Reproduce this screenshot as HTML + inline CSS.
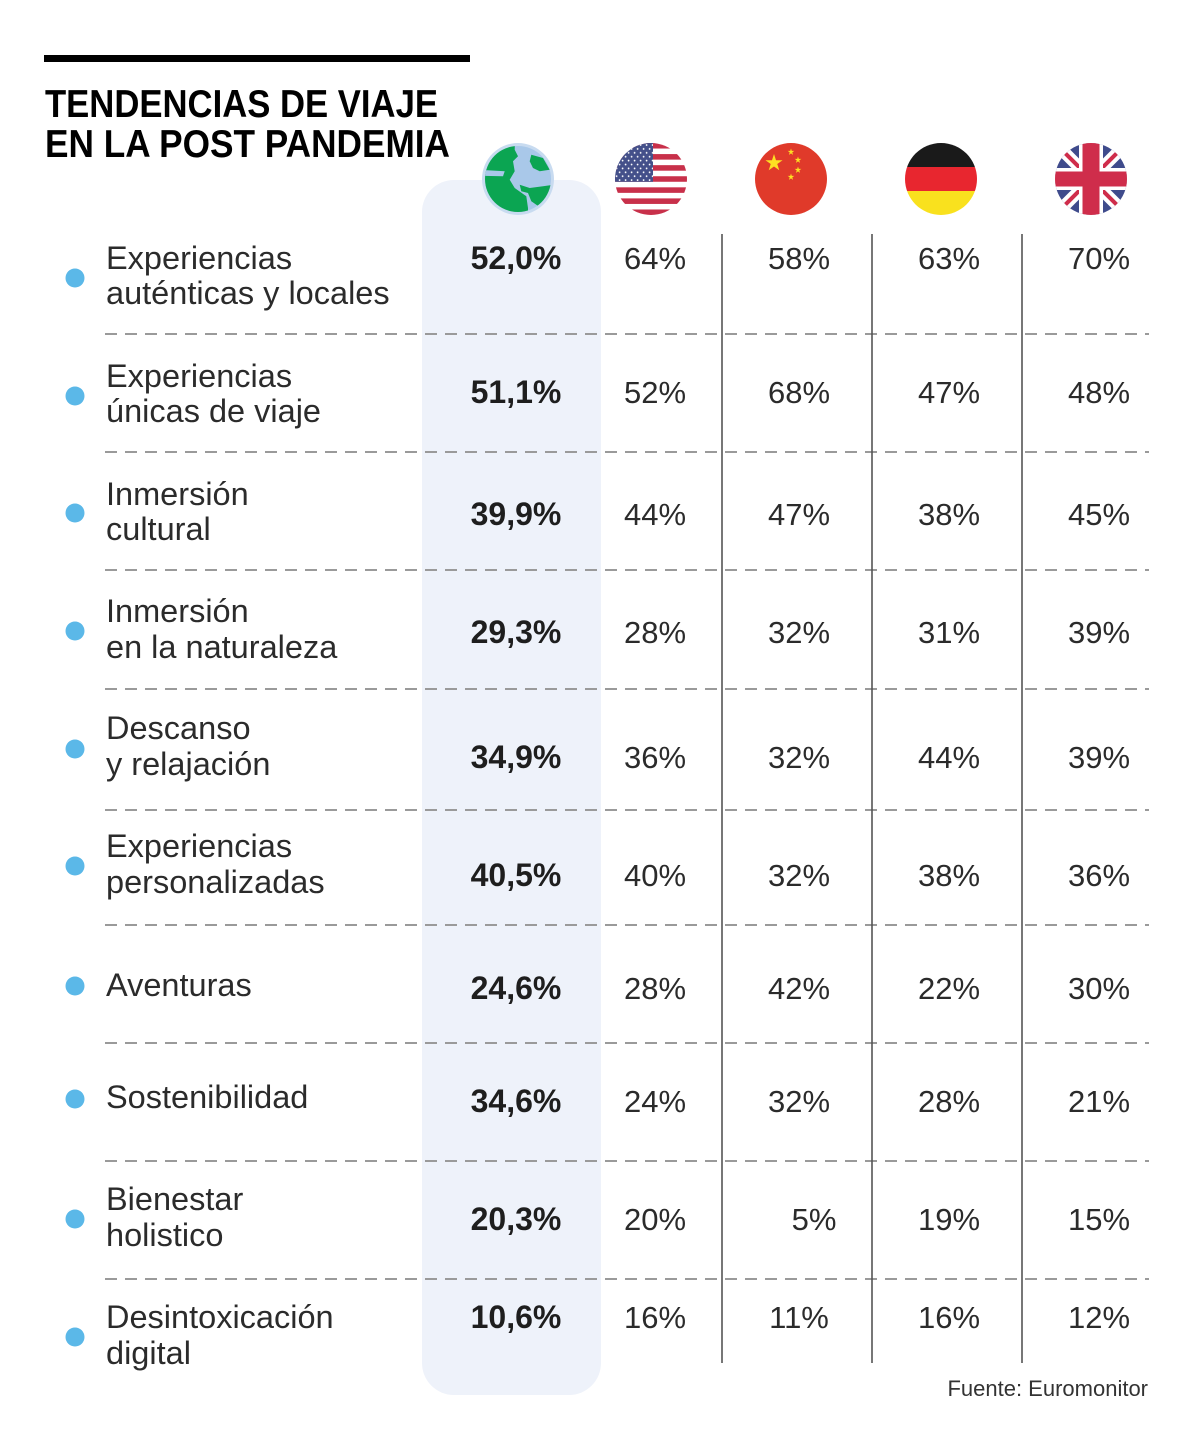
<!DOCTYPE html>
<html>
<head>
<meta charset="utf-8">
<style>
  html, body { margin: 0; padding: 0; background: #ffffff; }
  svg { display: block; }
  .lbl { font-family: "Liberation Sans", sans-serif; font-size: 32.5px; fill: #2b2b2b; }
  .val { font-family: "Liberation Sans", sans-serif; font-size: 31px; fill: #2b2b2b; text-anchor: middle; }
  .gval { font-family: "Liberation Sans", sans-serif; font-size: 32px; font-weight: bold; fill: #1e1e1e; text-anchor: middle; }
  .ttl { font-family: "Liberation Sans", sans-serif; font-size: 39px; font-weight: bold; fill: #000; }
</style>
</head>
<body>
<svg width="1200" height="1455" viewBox="0 0 1200 1455" xmlns="http://www.w3.org/2000/svg">
  <defs>
    <clipPath id="cUS"><circle cx="651" cy="179" r="36"/></clipPath>
    <clipPath id="cCN"><circle cx="791" cy="179" r="36"/></clipPath>
    <clipPath id="cDE"><circle cx="941" cy="179" r="36"/></clipPath>
    <clipPath id="cUK"><circle cx="1091" cy="179" r="36"/></clipPath>
    <clipPath id="cGL"><circle cx="0" cy="0" r="33"/></clipPath>
    <pattern id="stars" x="615" y="143" width="6" height="7.8" patternUnits="userSpaceOnUse">
      <circle cx="1.6" cy="2" r="0.9" fill="#fff"/>
      <circle cx="4.6" cy="5.9" r="0.9" fill="#fff"/>
    </pattern>
  </defs>

  <rect x="0" y="0" width="1200" height="1455" fill="#fff"/>

  <!-- Title -->
  <rect x="44" y="55" width="426" height="7" fill="#000"/>
  <text class="ttl" x="45" y="117" textLength="393" lengthAdjust="spacingAndGlyphs">TENDENCIAS DE VIAJE</text>
  <text class="ttl" x="45" y="157" textLength="405" lengthAdjust="spacingAndGlyphs">EN LA POST PANDEMIA</text>

  <!-- Highlight column -->
  <rect x="422" y="180" width="179" height="1215" rx="32" ry="32" fill="#eef2fa"/>

  <!-- Globe -->
  <g transform="translate(518,179)">
    <circle cx="0" cy="0" r="36" fill="#c8dbf0"/>
    <circle cx="0" cy="0" r="33" fill="#a9c8e9"/>
    <g clip-path="url(#cGL)" fill="#0ba552">
      <path d="M-3.3,-29.3 L0,-22.7 L-5,-17.7 L-3.3,-7.7 L-8.3,0.7 L-3.3,9 L8.3,17.3 L10,29 L10,40 L-40,40 L-40,-40 L-3,-40 Z"/>
      <path d="M13.3,-24.3 L25,-21 L31.7,-9.3 L21.7,-7.7 L15,-11 L11.7,-17.7 Z"/>
      <path d="M1.7,5.7 L11.7,9 L25,7.3 L40,5 L40,40 L18.3,25.7 L13.3,22.3 L10,14 L3.3,12.3 Z"/>
    </g>
    <path d="M-40,-9.3 L-13.3,-7.7 L-15,-2.7 L-40,-3.3 Z" fill="#a9c8e9" clip-path="url(#cGL)"/>
    <path d="M3.3,0.7 L30,-1 L8.3,3.3 Z" fill="#a9c8e9"/>
  </g>

  <!-- US flag -->
  <g clip-path="url(#cUS)">
    <rect x="615" y="143" width="72" height="72" fill="#fff"/>
    <rect x="615" y="143" width="72" height="5.54" fill="#c8304a"/>
    <rect x="615" y="154.08" width="72" height="5.54" fill="#c8304a"/>
    <rect x="615" y="165.16" width="72" height="5.54" fill="#c8304a"/>
    <rect x="615" y="176.24" width="72" height="5.54" fill="#c8304a"/>
    <rect x="615" y="187.32" width="72" height="5.54" fill="#c8304a"/>
    <rect x="615" y="198.4" width="72" height="5.54" fill="#c8304a"/>
    <rect x="615" y="209.48" width="72" height="5.54" fill="#c8304a"/>
    <rect x="615" y="143" width="38" height="38.8" fill="#44508a"/>
    <rect x="615" y="143" width="38" height="38.8" fill="url(#stars)"/>
  </g>

  <!-- China flag -->
  <g clip-path="url(#cCN)">
    <rect x="755" y="143" width="72" height="72" fill="#e03a2a"/>
    <polygon transform="translate(774,163) scale(9)" fill="#fde022" points="0,-1 0.2245,-0.309 0.951,-0.309 0.3633,0.118 0.5878,0.809 0,0.382 -0.5878,0.809 -0.3633,0.118 -0.951,-0.309 -0.2245,-0.309"/>
    <polygon transform="translate(791,152) scale(3.5)" fill="#fde022" points="0,-1 0.2245,-0.309 0.951,-0.309 0.3633,0.118 0.5878,0.809 0,0.382 -0.5878,0.809 -0.3633,0.118 -0.951,-0.309 -0.2245,-0.309"/>
    <polygon transform="translate(798,160) scale(3.5)" fill="#fde022" points="0,-1 0.2245,-0.309 0.951,-0.309 0.3633,0.118 0.5878,0.809 0,0.382 -0.5878,0.809 -0.3633,0.118 -0.951,-0.309 -0.2245,-0.309"/>
    <polygon transform="translate(798,170) scale(3.5)" fill="#fde022" points="0,-1 0.2245,-0.309 0.951,-0.309 0.3633,0.118 0.5878,0.809 0,0.382 -0.5878,0.809 -0.3633,0.118 -0.951,-0.309 -0.2245,-0.309"/>
    <polygon transform="translate(791,177) scale(3.5)" fill="#fde022" points="0,-1 0.2245,-0.309 0.951,-0.309 0.3633,0.118 0.5878,0.809 0,0.382 -0.5878,0.809 -0.3633,0.118 -0.951,-0.309 -0.2245,-0.309"/>
  </g>

  <!-- Germany flag -->
  <g clip-path="url(#cDE)">
    <rect x="905" y="143" width="72" height="24" fill="#1a1a1a"/>
    <rect x="905" y="167" width="72" height="24" fill="#e8262f"/>
    <rect x="905" y="191" width="72" height="24" fill="#f9e11e"/>
  </g>

  <!-- UK flag -->
  <g clip-path="url(#cUK)">
    <rect x="1055" y="143" width="72" height="72" fill="#3f4b8c"/>
    <line x1="1055" y1="143" x2="1127" y2="215" stroke="#fff" stroke-width="12"/>
    <line x1="1127" y1="143" x2="1055" y2="215" stroke="#fff" stroke-width="12"/>
    <line x1="1055" y1="143" x2="1127" y2="215" stroke="#cf2d4b" stroke-width="4"/>
    <line x1="1127" y1="143" x2="1055" y2="215" stroke="#cf2d4b" stroke-width="4"/>
    <rect x="1079" y="143" width="24" height="72" fill="#fff"/>
    <rect x="1055" y="168" width="72" height="22" fill="#fff"/>
    <rect x="1082.5" y="143" width="17" height="72" fill="#cf2d4b"/>
    <rect x="1055" y="171.5" width="72" height="15" fill="#cf2d4b"/>
  </g>

  <!-- Dashed separators -->
  <g stroke="#9a9a9a" stroke-width="2" stroke-dasharray="12 8">
    <line x1="105" y1="334" x2="1149" y2="334"/>
    <line x1="105" y1="452" x2="1149" y2="452"/>
    <line x1="105" y1="570" x2="1149" y2="570"/>
    <line x1="105" y1="689" x2="1149" y2="689"/>
    <line x1="105" y1="810" x2="1149" y2="810"/>
    <line x1="105" y1="925" x2="1149" y2="925"/>
    <line x1="105" y1="1043" x2="1149" y2="1043"/>
    <line x1="105" y1="1161" x2="1149" y2="1161"/>
    <line x1="105" y1="1279" x2="1149" y2="1279"/>
  </g>

  <!-- Vertical column lines -->
  <g stroke="#555" stroke-width="1.6">
    <line x1="722" y1="234" x2="722" y2="1363"/>
    <line x1="872" y1="234" x2="872" y2="1363"/>
    <line x1="1022" y1="234" x2="1022" y2="1363"/>
  </g>

  <!-- Bullets -->
  <g fill="#5bb8e8">
    <circle cx="75" cy="278" r="9.5"/>
    <circle cx="75" cy="396" r="9.5"/>
    <circle cx="75" cy="513" r="9.5"/>
    <circle cx="75" cy="631" r="9.5"/>
    <circle cx="75" cy="749" r="9.5"/>
    <circle cx="75" cy="866" r="9.5"/>
    <circle cx="75" cy="986" r="9.5"/>
    <circle cx="75" cy="1099" r="9.5"/>
    <circle cx="75" cy="1219" r="9.5"/>
    <circle cx="75" cy="1337" r="9.5"/>
  </g>

  <!-- Labels -->
  <text class="lbl" x="106" y="269">Experiencias</text>
  <text class="lbl" x="106" y="304">auténticas y locales</text>
  <text class="lbl" x="106" y="387">Experiencias</text>
  <text class="lbl" x="106" y="422">únicas de viaje</text>
  <text class="lbl" x="106" y="505">Inmersión</text>
  <text class="lbl" x="106" y="540">cultural</text>
  <text class="lbl" x="106" y="622">Inmersión</text>
  <text class="lbl" x="106" y="658">en la naturaleza</text>
  <text class="lbl" x="106" y="739">Descanso</text>
  <text class="lbl" x="106" y="775">y relajación</text>
  <text class="lbl" x="106" y="857">Experiencias</text>
  <text class="lbl" x="106" y="893">personalizadas</text>
  <text class="lbl" x="106" y="996">Aventuras</text>
  <text class="lbl" x="106" y="1108">Sostenibilidad</text>
  <text class="lbl" x="106" y="1210">Bienestar</text>
  <text class="lbl" x="106" y="1246">holistico</text>
  <text class="lbl" x="106" y="1328">Desintoxicación</text>
  <text class="lbl" x="106" y="1364">digital</text>

  <!-- Global values -->
  <text class="gval" x="516" y="269">52,0%</text>
  <text class="gval" x="516" y="403">51,1%</text>
  <text class="gval" x="516" y="525">39,9%</text>
  <text class="gval" x="516" y="643">29,3%</text>
  <text class="gval" x="516" y="768">34,9%</text>
  <text class="gval" x="516" y="886">40,5%</text>
  <text class="gval" x="516" y="999">24,6%</text>
  <text class="gval" x="516" y="1112">34,6%</text>
  <text class="gval" x="516" y="1230">20,3%</text>
  <text class="gval" x="516" y="1328">10,6%</text>

  <!-- US -->
  <text class="val" x="655" y="269">64%</text>
  <text class="val" x="655" y="403">52%</text>
  <text class="val" x="655" y="525">44%</text>
  <text class="val" x="655" y="643">28%</text>
  <text class="val" x="655" y="768">36%</text>
  <text class="val" x="655" y="886">40%</text>
  <text class="val" x="655" y="999">28%</text>
  <text class="val" x="655" y="1112">24%</text>
  <text class="val" x="655" y="1230">20%</text>
  <text class="val" x="655" y="1328">16%</text>

  <!-- China -->
  <text class="val" x="799" y="269">58%</text>
  <text class="val" x="799" y="403">68%</text>
  <text class="val" x="799" y="525">47%</text>
  <text class="val" x="799" y="643">32%</text>
  <text class="val" x="799" y="768">32%</text>
  <text class="val" x="799" y="886">32%</text>
  <text class="val" x="799" y="999">42%</text>
  <text class="val" x="799" y="1112">32%</text>
  <text class="val" x="814" y="1230">5%</text>
  <text class="val" x="799" y="1328">11%</text>

  <!-- Germany -->
  <text class="val" x="949" y="269">63%</text>
  <text class="val" x="949" y="403">47%</text>
  <text class="val" x="949" y="525">38%</text>
  <text class="val" x="949" y="643">31%</text>
  <text class="val" x="949" y="768">44%</text>
  <text class="val" x="949" y="886">38%</text>
  <text class="val" x="949" y="999">22%</text>
  <text class="val" x="949" y="1112">28%</text>
  <text class="val" x="949" y="1230">19%</text>
  <text class="val" x="949" y="1328">16%</text>

  <!-- UK -->
  <text class="val" x="1099" y="269">70%</text>
  <text class="val" x="1099" y="403">48%</text>
  <text class="val" x="1099" y="525">45%</text>
  <text class="val" x="1099" y="643">39%</text>
  <text class="val" x="1099" y="768">39%</text>
  <text class="val" x="1099" y="886">36%</text>
  <text class="val" x="1099" y="999">30%</text>
  <text class="val" x="1099" y="1112">21%</text>
  <text class="val" x="1099" y="1230">15%</text>
  <text class="val" x="1099" y="1328">12%</text>

  <!-- Source -->
  <text x="1148" y="1396" text-anchor="end" style="font-family:'Liberation Sans', sans-serif; font-size:22px; fill:#333;">Fuente: Euromonitor</text>
</svg>
</body>
</html>
